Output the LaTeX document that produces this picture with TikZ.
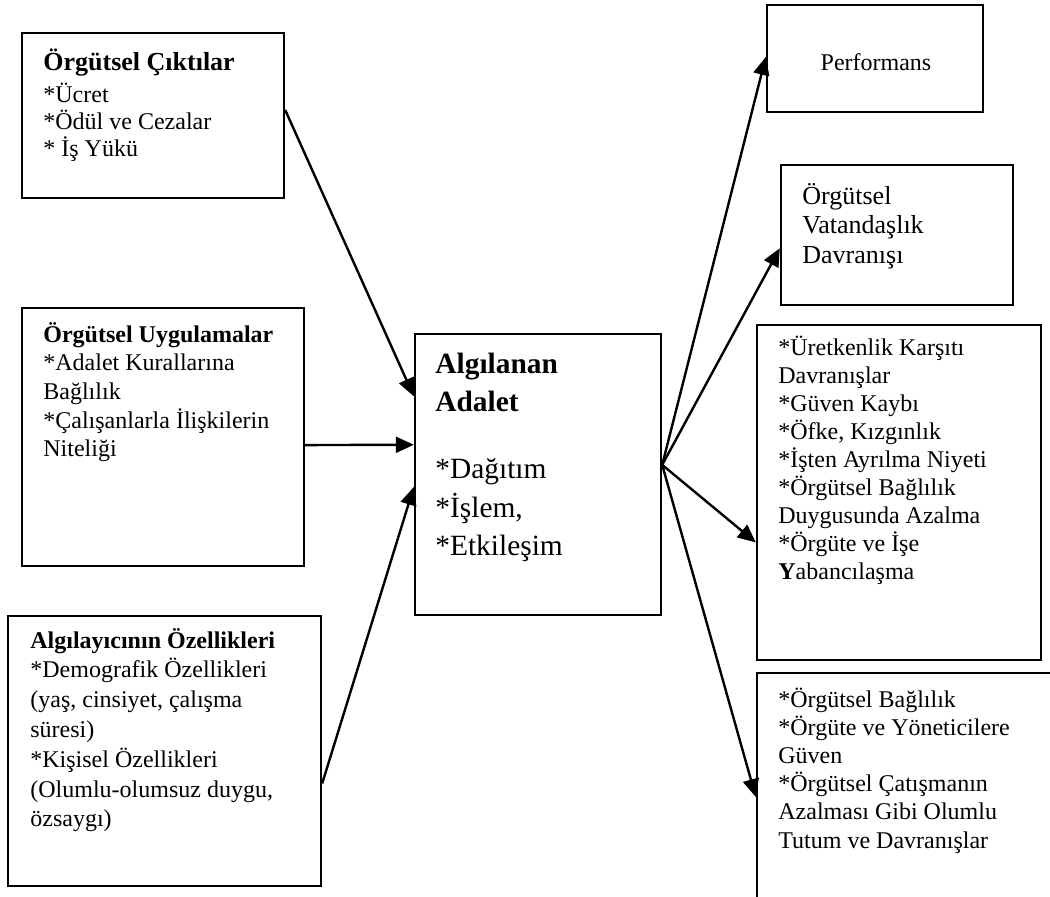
\documentclass[tikz,border=0pt]{standalone}
\usepackage{fontspec}
\setmainfont{Liberation Serif}
\usetikzlibrary{arrows.meta,calc,fit}

% stacked lines: baseline of the whole block is the baseline of its first line
\newcommand\rows[1]{\vtop{%
  \def\\{\egroup\hbox\bgroup\ignorespaces}%
  \def\gap##1{\egroup\vskip##1\hbox\bgroup\ignorespaces}%
  \hbox\bgroup\ignorespaces#1\egroup}}

\begin{document}
\begin{tikzpicture}[x=0.5pt,y=-0.5pt,
  box/.style={draw, line width=1.2pt, inner sep=0pt},
  txt/.style={inner sep=0pt, anchor=base west},
  link/.style={line width=1.2pt, -{Triangle[length=9pt,width=8pt]}}]
\useasboundingbox (0,0) rectangle (1050,896);

% frames
\node[box, fit={(22,33) (284,198)}] (b1) {};
\node[box, fit={(22,308) (304,566)}] (b2) {};
\node[box, fit={(8,616) (321,886)}] (b3) {};
\node[box, fit={(415,334) (661,615)}] (c) {};
\node[box, fit={(767,5) (983,112)}] (p) {};
\node[box, fit={(781,165) (1013,305)}] (v) {};
\node[box, fit={(757,325) (1041,660)}] (u) {};
\node[box, fit={(757,673) (1080,920)}] (g) {};

% texts
\node[txt, font={\fontsize{12}{13.5}\selectfont}] (t1) at (43,70)
  {\rows{\textbf{\fontsize{13}{13.5}\selectfont Örgütsel Çıktılar}\gap{2.5pt}%
   *Ücret\\*Ödül ve Cezalar\\* İş Yükü}};
\node[txt, font={\fontsize{12}{14.35}\selectfont}] (t2) at (43,342)
  {\rows{\textbf{Örgütsel Uygulamalar}\\*Adalet Kurallarına\\Bağlılık\\%
   *Çalışanlarla İlişkilerin\\Niteliği}};
\node[txt, font={\fontsize{12}{14.9}\selectfont}] (t3) at (30,648)
  {\rows{\textbf{Algılayıcının Özellikleri}\\*Demografik Özellikleri\\%
   (yaş, cinsiyet, çalışma\\süresi)\\*Kişisel Özellikleri\\%
   (Olumlu-olumsuz duygu,\\özsaygı)}};
\node[txt, font={\fontsize{14.7}{19.25}\selectfont}] (tc) at (435,373)
  {\rows{\textbf{Algılanan}\\\textbf{Adalet}\gap{14.25pt}%
   *Dağıtım\\*İşlem,\\*Etkileşim}};
\node[inner sep=0pt, anchor=base, font={\fontsize{12}{14}\selectfont}] (tp) at (876,70) {Performans};
\node[txt, font={\fontsize{13}{14.75}\selectfont}] (tv) at (802,204)
  {\rows{Örgütsel\\Vatandaşlık\\Davranışı}};
\node[txt, font={\fontsize{12}{14.05}\selectfont}] (tu) at (778,355)
  {\rows{*Üretkenlik Karşıtı\\Davranışlar\\*Güven Kaybı\\*Öfke, Kızgınlık\\%
   *İşten Ayrılma Niyeti\\*Örgütsel Bağlılık\\Duygusunda Azalma\\%
   *Örgüte ve İşe\\\textbf{Y}abancılaşma}};
\node[txt, font={\fontsize{12}{14.1}\selectfont}] (tg) at (778,707)
  {\rows{*Örgütsel Bağlılık\\*Örgüte ve Yöneticilere\\Güven\\%
   *Örgütsel Çatışmanın\\Azalması Gibi Olumlu\\Tutum ve Davranışlar}};

% connectors into the central box
\draw[link] ($(b1.north east)!.467!(b1.south east)$) -- ($(c.north west)!.224!(c.south west)$);
\draw[link] ($(b2.north east)!.531!(b2.south east)$) -- ($(c.north west)!.395!(c.south west)$);
\draw[link] ($(b3.north east)!.619!(b3.south east)$) -- ($(c.north west)!.544!(c.south west)$);

% connectors out of the central box
\coordinate (o) at ($(c.north east)!.466!(c.south east)$);
\draw[link] (o) -- ($(p.north west)!.486!(p.south west)$);
\draw[link] (o) -- ($(v.north west)!.593!(v.south west)$);
\draw[link] (o) -- ($(u.north west)!.648!(u.south west)$);
\draw[link] (o) -- ($(g.north west)!.502!(g.south west)$);
\end{tikzpicture}
\end{document}
